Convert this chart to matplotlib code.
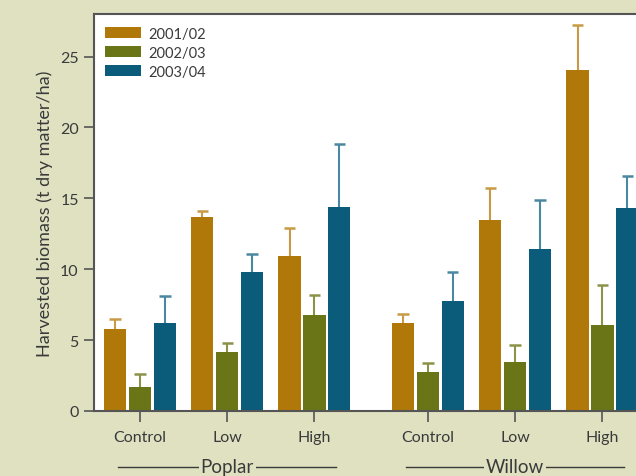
import matplotlib
matplotlib.use("Agg")
import matplotlib.pyplot as plt
import numpy as np

plt.rcParams['font.family'] = ['Lato', 'DejaVu Sans']

groups = ["Poplar", "Willow"]
treatments = ["Control", "Low", "High"]
seasons = ["2001/02", "2002/03", "2003/04"]

# order: Poplar Control, Low, High, Willow Control, Low, High
vals_0102 = [5.80, 13.69, 10.94, 6.22, 13.47, 24.04]
vals_0203 = [1.71, 4.18, 6.78, 2.77, 3.47, 6.08]
vals_0304 = [6.22, 9.81, 14.39, 7.77, 11.43, 14.30]
top_0102 = [6.50, 14.11, 12.91, 6.81, 15.70, 27.23]
top_0203 = [2.58, 4.79, 8.19, 3.38, 4.69, 8.90]
top_0304 = [8.08, 11.10, 18.83, 9.77, 14.88, 16.60]

colors = ["#b07808", "#6a7518", "#0b5c7b"]
err_colors = ["#c89a45", "#8c9348", "#4a88a2"]
bg = "#dfe1c1"
txt = "#3a3a3a"

xpos = np.array([0, 1, 2, 3.3, 4.3, 5.3])
offsets = [-0.285, 0.0, 0.285]
bw = 0.255
capw = 0.13

fig = plt.figure(figsize=(6.36, 4.77), dpi=100, facecolor=bg)
ax = fig.add_axes([94/636, 65/477, 552/636, 397/477])
ax.set_facecolor("white")

series = [(vals_0102, top_0102), (vals_0203, top_0203), (vals_0304, top_0304)]
for i, (v, t) in enumerate(series):
    v = np.array(v); t = np.array(t)
    x = xpos + offsets[i]
    ax.bar(x, v, width=bw, color=colors[i], label=seasons[i], zorder=2)
    ax.vlines(x, v, t, colors=err_colors[i], linewidth=1.5, zorder=1)
    ax.hlines(t, x - capw / 2, x + capw / 2, colors=err_colors[i], linewidth=1.8, zorder=1)

ax.set_xlim(-0.527, 5.8)
ax.set_ylim(0, 28)
ax.set_yticks([0, 5, 10, 15, 20, 25])
ax.set_xticks(xpos)
ax.set_xticklabels(treatments * 2)

for s in ["left", "top", "bottom"]:
    ax.spines[s].set_color("#555555")
    ax.spines[s].set_linewidth(1.5)
ax.spines["right"].set_visible(False)

ax.tick_params(axis='both', colors="#555555", labelcolor=txt, labelsize=11.5, width=1.2)
ax.tick_params(axis='y', length=7, pad=4)
ax.tick_params(axis='x', length=8, pad=6)

ax.set_ylabel("Harvested biomass (t dry matter/ha)", fontsize=13, color=txt, labelpad=5)

leg = ax.legend(loc='upper left', bbox_to_anchor=(0.02, 0.968), frameon=False,
                borderpad=0, borderaxespad=0, handlelength=2.45, handleheight=0.8,
                handletextpad=0.5, labelspacing=0.35, fontsize=10.5)
for t in leg.get_texts():
    t.set_color(txt)

trans = ax.get_xaxis_transform()
centers = [xpos[1], xpos[4]]
for g, c in zip(groups, centers):
    ax.plot([c - 1.25, c + 1.25], [-0.14, -0.14], transform=trans, color=txt,
            lw=1.0, clip_on=False)
    ax.text(c, -0.14, g, transform=trans, ha='center', va='center', fontsize=13.5,
            color=txt, bbox=dict(facecolor=bg, edgecolor='none', pad=1.5))

fig.savefig("out.png", dpi=100, facecolor=bg)
